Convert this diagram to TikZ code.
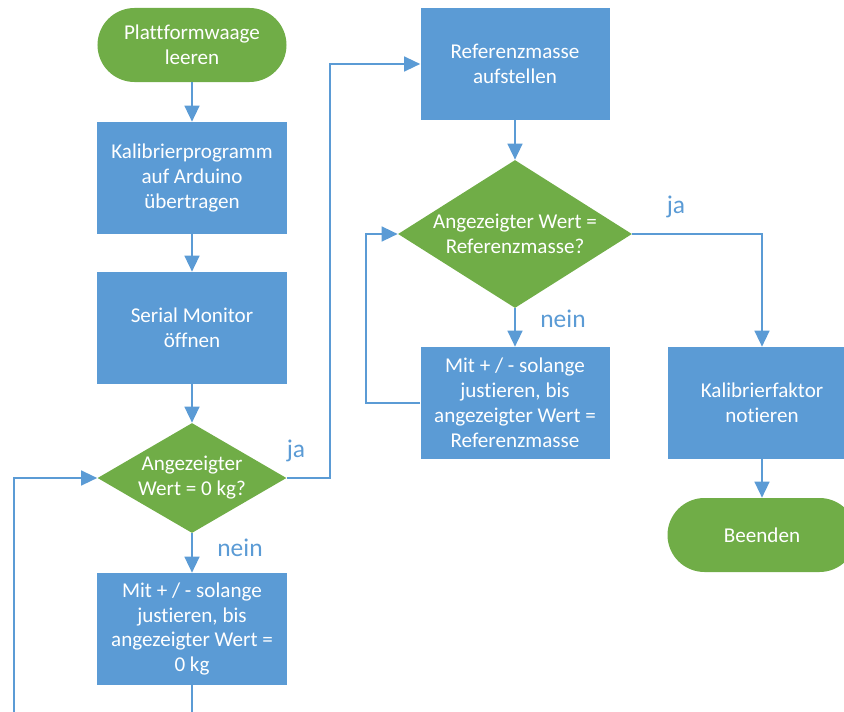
\documentclass[tikz,border=0pt]{standalone}
\usepackage{fontspec}
\setmainfont{Carlito}[Ligatures={NoCommon}]
\usetikzlibrary{arrows.meta}
\usetikzlibrary{shapes.geometric}
\usetikzlibrary{positioning}
\definecolor{fblau}{HTML}{5B9BD5}
\definecolor{fgruen}{HTML}{70AD47}

\begin{document}
\begin{tikzpicture}
	[x=0.2mm, y=-0.2mm,
	every node/.style={font=\fontsize{12}{14.2}\selectfont, text=white, align=center},
	schritt/.style={rectangle, fill=fblau, minimum width=37.8mm, minimum height=22.4mm, inner sep=0pt},
	frage/.style={diamond, fill=fgruen, inner sep=0pt, aspect=1.72, minimum width=37.8mm, minimum height=22mm},
	ende/.style={rectangle, rounded corners=7.4mm, fill=fgruen, minimum width=37.8mm, minimum height=14.8mm, inner sep=0pt},
	marke/.style={font=\fontsize{14.5}{16}\selectfont, text=fblau},
	pfeil/.style={draw=fblau, line width=0.85pt, -{Triangle[length=3.2mm,width=3mm]}}]
	\useasboundingbox (0,0) rectangle (844,711);
	\clip (0,0) rectangle (844,711);
	\node[ende] (start) at (192,45) {Plattformwaage\\leeren};
	\node[schritt] (prog) at (192,178) {Kalibrierprogramm\\auf Arduino\\übertragen};
	\node[schritt] (serial) at (192,328) {Serial Monitor\\öffnen};
	\node[frage] (frage1) at (192,478) {Angezeigter\\Wert = 0 kg?};
	\node[schritt] (justage1) at (192,629) {Mit + / - solange\\justieren, bis\\angezeigter Wert =\\0 kg};
	\node[schritt] (ref) at (515,64) {Referenzmasse\\aufstellen};
	\node[frage, aspect=1.58, minimum width=46.8mm, minimum height=29.6mm] (frage2) at (515,234) {Angezeigter Wert =\\Referenzmasse?};
	\node[schritt] (justage2) at (515,403) {Mit + / - solange\\justieren, bis\\angezeigter Wert =\\Referenzmasse};
	\node[schritt] (faktor) at (762,403) {Kalibrierfaktor\\notieren};
	\node[ende] (stop) at (762,535) {Beenden};
	\coordinate (rueck1) at (14,745);
	\node[marke] (ja1) at (296,451) {ja};
	\node[marke] (nein1) at (240,548) {nein};
	\node[marke] (nein2) at (563,319) {nein};
	\node[marke] (ja2) at (676,207) {ja};
	\draw[pfeil] (start) -- (prog);
	\draw[pfeil] (prog) -- (serial);
	\draw[pfeil] (serial) -- (frage1);
	\draw[pfeil] (frage1) -- (justage1);
	\draw[pfeil] (justage1.south) -- ++(0,60) -| (rueck1) |- (frage1.west);
	\draw[pfeil] (frage1.east) -- ++(43,0) |- (ref.west);
	\draw[pfeil] (ref) -- (frage2);
	\draw[pfeil] (frage2) -- (justage2);
	\draw[pfeil] (justage2.west) -- ++(-54,0) |- (frage2.west);
	\draw[pfeil] (frage2.east) -| (faktor.north);
	\draw[pfeil] (faktor) -- (stop);
\end{tikzpicture}
\end{document}
